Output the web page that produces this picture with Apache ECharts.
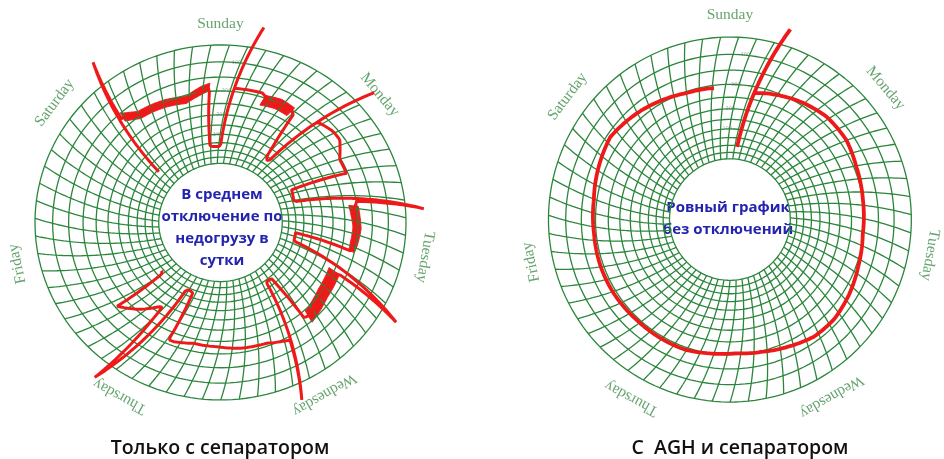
<!DOCTYPE html>
<html>
<head>
<meta charset="utf-8">
<script src="https://cdn.jsdelivr.net/npm/echarts@6/dist/echarts.min.js"></script>
<style>
html,body{margin:0;padding:0;background:#fff}
#main{width:944px;height:459px}
</style>
</head>
<body>
<div id="main"></div>
<script>
// ---- data ----
var days = ['Sunday', 'Monday', 'Tuesday', 'Wednesday', 'Thursday', 'Friday', 'Saturday'];
var ringValues = [-100, -50, 0, 50, 100, 150, 200, 250, 300, 350, 400, 450];
var tickLabels = [100, 200, 300, 400];
var hourLines = 63;              // time arcs on the chart disc
var weekHours = 168;

// left chart pen trace: [hour from Sunday 0:00, value]
var leftTrace = [
  [164.2, 37], [164.2, 513], [164.6, 334], [168.2, 303], [170.4, 299], [174.0, 294],
  [178.1, 281], [181.4, 302], [182.6, 315], [183.8, 29], [187.3, 25], [187.3, 508],
  [187.3, 312], [192.9, 315], [194.5, 290], [196.9, 296], [199.3, 300], [200.3, 287],
  [203.0, 46], [204.5, 18], [204.5, 500], [204.5, 315], [205.0, 322], [207.6, 335],
  [209.6, 335], [213.4, 295], [216.5, 295], [217.4, 22], [221.8, 7], [222.0, 497],
  [222.5, 302], [224.5, 285], [226.0, 290], [229.0, 295], [233.0, 285], [233.3, 3],
  [236.4, 3], [238.2, 498], [238.6, 271], [239.4, 251], [245.0, 257], [249.6, 279],
  [250.5, 270], [252.3, 9], [254.5, 12], [254.9, 494], [254.9, 313], [259.5, 289],
  [265.1, 283], [269.9, 272], [274.8, 269], [278.6, 284], [279.7, 284], [281.0, 14],
  [283.5, 14], [283.5, 500], [285.8, 163], [289.0, 240], [292.1, 293], [293.5, 18],
  [294.5, 15]
];
// noisy (thick) stretches of the left trace: [hour, low, high]
var leftBands = [
  [[165, 318, 348], [168, 290, 318], [171, 286, 314], [174, 280, 308], [178, 268, 296], [181, 290, 322], [182.5, 302, 330]],
  [[193.5, 268, 310], [196.5, 275, 318], [199.5, 272, 312]],
  [[223.5, 270, 305], [225.5, 275, 308], [228, 282, 312], [231.5, 278, 305], [233, 278, 300]],
  [[238.6, 225, 275], [244, 232, 282], [249.5, 255, 305]]
];

// right chart pen trace
var rightTrace = [
  [22.2, -8], [22.2, 495], [22.2, 276], [24.9, 287], [31.3, 309], [36.8, 323], [42.6, 323],
  [48.2, 309], [55.0, 300], [61.7, 297], [68.1, 308], [73.3, 322], [78.9, 334], [83.7, 333],
  [89.2, 317], [94.6, 303], [99.9, 295], [105.1, 301], [109.5, 309], [114.4, 309], [120.8, 308],
  [127.6, 311], [133.4, 311], [140.0, 308], [146.4, 311], [152.7, 325], [158.4, 338],
  [165.2, 323], [171.0, 308], [175.9, 295], [180.7, 291], [181.7, 289]
];

// ---- chart geometry ----
var START_DEG = -43;        // angle of Sunday 0:00 at the inner ring
var PIVOT = 1.7;            // pen arm pivot distance (chart radii)
var labelAngles = [0, 50, 100, 150, 209, 258, 307];
function radius(v) { return Math.exp((v - 450) / 500); }
var R_IN = radius(-100);
function arcOffset(r) { return Math.acos(R_IN / (2 * PIVOT)) - Math.acos(r / (2 * PIVOT)); }
function toXY(t, v) {
  var r = radius(v);
  var a = (START_DEG + t * 360 / weekHours) * Math.PI / 180 + arcOffset(r);
  return [r * Math.sin(a), r * Math.cos(a)];
}
function penPath(pts) {
  var out = [toXY(pts[0][0], pts[0][1])];
  for (var i = 1; i < pts.length; i++) {
    var p = pts[i - 1], q = pts[i];
    var n = Math.max(1, Math.ceil(Math.max(Math.abs(q[0] - p[0]) / 0.25, Math.abs(q[1] - p[1]) / 8)));
    for (var j = 1; j <= n; j++) {
      var f = j / n;
      out.push(toXY(p[0] + (q[0] - p[0]) * f, p[1] + (q[1] - p[1]) * f));
    }
  }
  return out;
}

var GREEN = '#2b863c';
var RED = '#ee1a1a';

function buildSeries(idx, trace, bands) {
  var s = [];
  var base = {type: 'line', xAxisIndex: idx, yAxisIndex: idx, symbol: 'none', silent: true, animation: false};
  ringValues.forEach(function (v) {
    var d = [];
    for (var t = 0; t <= weekHours; t += 1) d.push(toXY(t, v));
    s.push(Object.assign({}, base, {data: d, lineStyle: {color: GREEN, width: 1.3}}));
  });
  for (var k = 0; k < hourLines; k++) {
    var t = k * weekHours / hourLines, d = [];
    for (var v = -100; v <= 450; v += 10) d.push(toXY(t, v));
    s.push(Object.assign({}, base, {data: d, lineStyle: {color: GREEN, width: 1.3}}));
  }
  if (bands) {
    s.push({
      type: 'custom', xAxisIndex: idx, yAxisIndex: idx, silent: true, animation: false,
      data: bands.map(function (b, i) { return [i, 0]; }),
      renderItem: function (params, api) {
        var b = bands[params.dataIndex];
        var hi = penPath(b.map(function (p) { return [p[0], p[2]]; }));
        var lo = penPath(b.map(function (p) { return [p[0], p[1]]; })).reverse();
        var pts = hi.concat(lo).map(function (p) { return api.coord(p); });
        return {type: 'polygon', shape: {points: pts}, style: {fill: RED, stroke: RED, lineWidth: 1}};
      }
    });
  }
  s.push(Object.assign({}, base, {data: penPath(trace), clip: false, z: 5,
    lineStyle: {color: RED, width: idx === 0 ? 3 : 3.8}}));
  s.push({
    type: 'scatter', xAxisIndex: idx, yAxisIndex: idx, silent: true, animation: false, symbolSize: 0,
    data: days.map(function (name, d) {
      var a = labelAngles[d] * Math.PI / 180, R = 1.12;
      return {value: [R * Math.sin(a), R * Math.cos(a)], name: name,
        label: {rotate: -labelAngles[d]}};
    }),
    label: {show: true, position: 'inside', formatter: '{b}', color: '#3f8c4a',
      fontFamily: 'Liberation Serif', fontSize: 15.5}
  });
  s.push({
    type: 'scatter', xAxisIndex: idx, yAxisIndex: idx, silent: true, animation: false, symbolSize: 0,
    data: tickLabels.map(function (v) { return {value: toXY(18, v), name: String(v)}; }),
    label: {show: true, position: 'inside', formatter: '{b}', color: '#8a8a8a', fontSize: 5, fontFamily: 'DejaVu Sans'}
  });
  return s;
}

var axisOff = {type: 'value', min: -1.18, max: 1.18, show: false};
var chart = echarts.init(document.getElementById('main'));
chart.setOption({
  backgroundColor: '#fff',
  animation: false,
  grid: [
    {left: 1.6, top: 13, width: 437.8, height: 418.9},
    {left: 515.8, top: 4.2, width: 435.4, height: 430.7}
  ],
  xAxis: [Object.assign({gridIndex: 0}, axisOff), Object.assign({gridIndex: 1}, axisOff)],
  yAxis: [Object.assign({gridIndex: 0}, axisOff), Object.assign({gridIndex: 1}, axisOff)],
  series: buildSeries(0, leftTrace, leftBands).concat(buildSeries(1, rightTrace, null)),
  graphic: [
    {type: 'text', x: 222, y: 228, style: {text: 'В среднем\nотключение по\nнедогрузу в\nсутки',
      fill: '#2323b0', font: 'bold 15px "Open Sans"', align: 'center', verticalAlign: 'middle', lineHeight: 22}},
    {type: 'text', x: 728, y: 219, style: {text: 'Ровный график\nбез отключений',
      fill: '#2323b0', font: 'bold 15px "Open Sans"', align: 'center', verticalAlign: 'middle', lineHeight: 22}},
    {type: 'text', x: 220, y: 448, style: {text: 'Только с сепаратором',
      fill: '#111', font: '600 19.5px "Open Sans"', align: 'center', verticalAlign: 'middle'}},
    {type: 'text', x: 740, y: 448, style: {text: 'С  AGH и сепаратором',
      fill: '#111', font: '600 19.5px "Open Sans"', align: 'center', verticalAlign: 'middle'}}
  ]
});
</script>
</body>
</html>
